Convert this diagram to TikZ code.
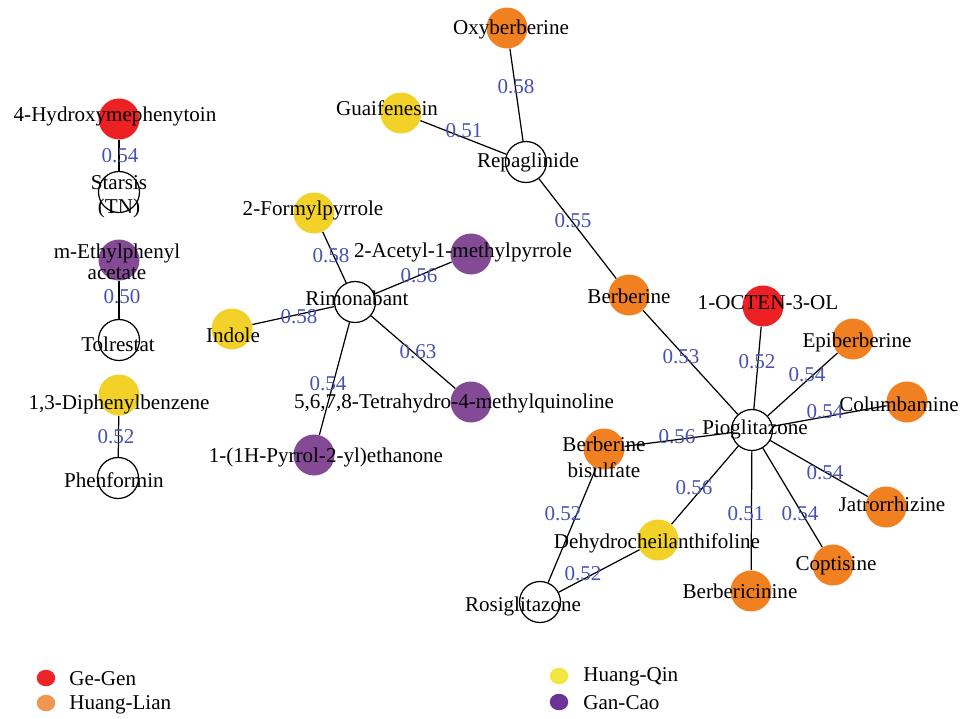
\documentclass[tikz,border=0pt]{standalone}
\usepackage{fontspec}
\setmainfont{Liberation Serif}
\usetikzlibrary{shapes.geometric}
\definecolor{gegen}{RGB}{237,32,36}
\definecolor{huanglian}{RGB}{241,128,33}
\definecolor{huangqin}{RGB}{242,210,40}
\definecolor{gancao}{RGB}{133,74,150}
\definecolor{keygegen}{RGB}{237,36,40}
\definecolor{keylian}{RGB}{240,150,80}
\definecolor{keyqin}{RGB}{240,232,64}
\definecolor{keycao}{RGB}{108,52,150}
\definecolor{scoreblue}{RGB}{72,82,176}
\begin{document}
\begin{tikzpicture}[x=0.02cm,y=-0.02cm,
    herb/.style={circle,minimum size=0.82cm,inner sep=0pt},
    drug/.style={herb,draw,fill=white,line width=0.7pt},
    cpd/.style={font=\fontsize{12}{14}\selectfont,inner sep=0pt,align=center},
    score/.style={text=scoreblue,font=\fontsize{12}{14}\selectfont,inner sep=0pt},
    link/.style={line width=0.7pt},
    legdot/.style={ellipse,minimum width=0.37cm,minimum height=0.33cm,inner sep=0pt},
    legtext/.style={font=\fontsize{12}{14}\selectfont,anchor=west,inner sep=0pt}]

    \useasboundingbox (0,0) rectangle (964,718);

    % left column
    \node[herb,fill=gegen] (hyd) at (119,119) {};
    \node[drug] (sta) at (119,192) {};
    \node[herb,fill=gancao] (eth) at (119,260) {};
    \node[drug] (tol) at (119,340) {};
    \node[herb,fill=huangqin] (dip) at (119,395) {};
    \node[drug] (phe) at (118,478) {};

    % Rimonabant
    \node[drug] (rim) at (355,302) {};
    \node[herb,fill=huangqin] (for) at (314,213) {};
    \node[herb,fill=gancao] (ace) at (471,254) {};
    \node[herb,fill=huangqin] (ind) at (232,329) {};
    \node[herb,fill=gancao] (tet) at (471,402) {};
    \node[herb,fill=gancao] (pyr) at (314,455) {};

    % Repaglinide
    \node[drug] (rep) at (526,162) {};
    \node[herb,fill=huanglian] (oxy) at (507,28) {};
    \node[herb,fill=huangqin] (gua) at (401,113) {};
    \node[herb,fill=huanglian] (ber) at (629,295) {};

    % Pioglitazone
    \node[drug] (pio) at (752,430) {};
    \node[herb,fill=gegen] (oct) at (763,306) {};
    \node[herb,fill=huanglian] (epi) at (853,339) {};
    \node[herb,fill=huanglian] (col) at (907,402) {};
    \node[herb,fill=huanglian] (jat) at (886,507) {};
    \node[herb,fill=huanglian] (cop) at (833,565) {};
    \node[herb,fill=huanglian] (bci) at (751,591) {};
    \node[herb,fill=huangqin] (deh) at (658,540) {};
    \node[herb,fill=huanglian] (bis) at (604,449) {};
    \node[drug] (ros) at (540,602) {};

    \draw[link] (hyd) -- (sta);
    \draw[link] (eth) -- (tol);
    \draw[link] (dip) -- (phe);
    \draw[link] (rim) -- (for);
    \draw[link] (rim) -- (ace);
    \draw[link] (rim) -- (ind);
    \draw[link] (rim) -- (tet);
    \draw[link] (rim) -- (pyr);
    \draw[link] (rep) -- (oxy);
    \draw[link] (rep) -- (gua);
    \draw[link] (rep) -- (ber);
    \draw[link] (pio) -- (ber);
    \draw[link] (pio) -- (oct);
    \draw[link] (pio) -- (epi);
    \draw[link] (pio) -- (col);
    \draw[link] (pio) -- (jat);
    \draw[link] (pio) -- (cop);
    \draw[link] (pio) -- (bci);
    \draw[link] (pio) -- (deh);
    \draw[link] (pio) -- (bis);
    \draw[link] (ros) -- (bis);
    \draw[link] (ros) -- (deh);

    % names
    \node[cpd] (hydt) at (115,116) {4-Hydroxymephenytoin};
    \node[cpd,font=\fontsize{12}{13.6}\selectfont] (stat) at (119,197) {Starsis\\(TN)};
    \node[cpd,font=\fontsize{12}{12}\selectfont] (etht) at (117,262) {m-Ethylphenyl\\acetate};
    \node[cpd] (tolt) at (118,344) {Tolrestat};
    \node[cpd] (dipt) at (119,404) {1,3-Diphenylbenzene};
    \node[cpd] (phet) at (114,480) {Phenformin};
    \node[cpd] (rimt) at (357,298) {Rimonabant};
    \node[cpd] (fort) at (313,210) {2-Formylpyrrole};
    \node[cpd] (acet) at (463,252) {2-Acetyl-1-methylpyrrole};
    \node[cpd] (indt) at (233,335) {Indole};
    \node[cpd] (tett) at (454,403) {5,6,7,8-Tetrahydro-4-methylquinoline};
    \node[cpd] (pyrt) at (326,457) {1-(1H-Pyrrol-2-yl)ethanone};
    \node[cpd] (rept) at (528,162) {Repaglinide};
    \node[cpd] (oxyt) at (511,29) {Oxyberberine};
    \node[cpd] (guat) at (387,108) {Guaifenesin};
    \node[cpd] (bert) at (629,296) {Berberine};
    \node[cpd] (piot) at (755,429) {Pioglitazone};
    \node[cpd] (octt) at (768,303) {1-OCTEN-3-OL};
    \node[cpd] (epit) at (857,342) {Epiberberine};
    \node[cpd] (colt) at (899,404) {Columbamine};
    \node[cpd] (jatt) at (892,504) {Jatrorrhizine};
    \node[cpd] (copt) at (836,566) {Coptisine};
    \node[cpd] (bcit) at (740,591) {Berbericinine};
    \node[cpd] (deht) at (657,543) {Dehydrocheilanthifoline};
    \node[cpd,font=\fontsize{12}{15}\selectfont] (bist) at (604,457) {Berberine\\bisulfate};
    \node[cpd] (rost) at (523,606) {Rosiglitazone};

    % scores
    \node[score] (s1) at (120,156) {0.54};
    \node[score] (s2) at (122,297) {0.50};
    \node[score] (s3) at (116,437) {0.52};
    \node[score] (s4) at (331,256) {0.58};
    \node[score] (s5) at (419,276) {0.56};
    \node[score] (s6) at (299,317) {0.58};
    \node[score] (s7) at (418,352) {0.63};
    \node[score] (s8) at (328,384) {0.54};
    \node[score] (s9) at (516,87) {0.58};
    \node[score] (s10) at (464,131) {0.51};
    \node[score] (s11) at (573,221) {0.55};
    \node[score] (s12) at (681,357) {0.53};
    \node[score] (s13) at (757,362) {0.52};
    \node[score] (s14) at (807,375) {0.54};
    \node[score] (s15) at (825,412) {0.54};
    \node[score] (s16) at (677,437) {0.56};
    \node[score] (s17) at (825,473) {0.54};
    \node[score] (s18) at (746,514) {0.51};
    \node[score] (s19) at (800,514) {0.54};
    \node[score] (s20) at (694,488) {0.56};
    \node[score] (s21) at (563,514) {0.52};
    \node[score] (s22) at (583,574) {0.52};

    % legend
    \node[legdot,fill=keygegen] (k1) at (46,678) {};
    \node[legdot,fill=keylian] (k2) at (46,703) {};
    \node[legdot,fill=keyqin] (k3) at (559,676) {};
    \node[legdot,fill=keycao] (k4) at (559,702) {};
    \node[legtext] (k1t) at (69,679) {Ge-Gen};
    \node[legtext] (k2t) at (69,705) {Huang-Lian};
    \node[legtext] (k3t) at (583,677) {Huang-Qin};
    \node[legtext] (k4t) at (583,703) {Gan-Cao};
\end{tikzpicture}
\end{document}
